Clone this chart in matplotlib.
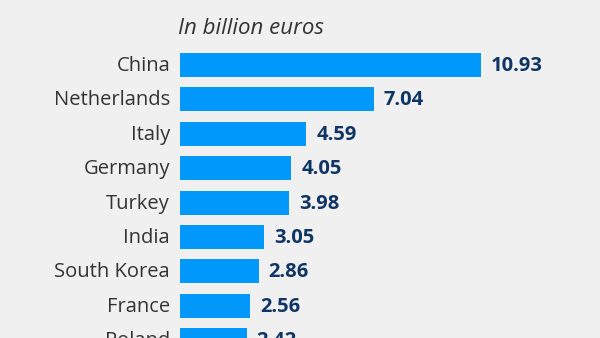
import matplotlib.pyplot as plt
from matplotlib.transforms import offset_copy

countries = ["China", "Netherlands", "Italy", "Germany", "Turkey", "India",
             "South Korea", "France", "Poland"]
values = [10.93, 7.04, 4.59, 4.05, 3.98, 3.05, 2.86, 2.56, 2.42]

bg = "#f0f0f0"
bar_color = "#0098fb"
label_color = "#333333"
value_color = "#0f3565"

plt.rcParams["font.family"] = ["Open Sans", "DejaVu Sans"]

fig = plt.figure(figsize=(6, 3.38), dpi=100, facecolor=bg)
ax = fig.add_axes([0.3, 0, 0.7, 1])
ax.set_facecolor(bg)

pos = list(range(len(countries)))
ax.barh(pos, values, height=0.7, color=bar_color)

# 27.5 px per unit, rows 34.4 px apart, first row centred at y=65 px
ax.set_xlim(0, 420 / 27.5)
ax.set_ylim((338 - 65) / 34.4, -65 / 34.4)
ax.axis("off")

lab_tr = offset_copy(ax.get_yaxis_transform(), fig=fig, x=-10, y=-1, units="dots")
val_tr = offset_copy(ax.transData, fig=fig, x=10, y=-1, units="dots")
for p, c, v in zip(pos, countries, values):
    ax.text(0, p, c, transform=lab_tr, ha="right", va="center",
            fontsize=14.5, color=label_color, clip_on=False)
    ax.text(v, p, f"{v:.2f}", transform=val_tr, ha="left", va="center",
            fontsize=14.5, fontweight="bold", color=value_color, clip_on=False)

fig.text(178 / 600, 1 - 28 / 338, "In billion euros", ha="left", va="center",
         fontsize=16, style="italic", color=label_color)

fig.savefig("out.png", dpi=100, facecolor=bg)
